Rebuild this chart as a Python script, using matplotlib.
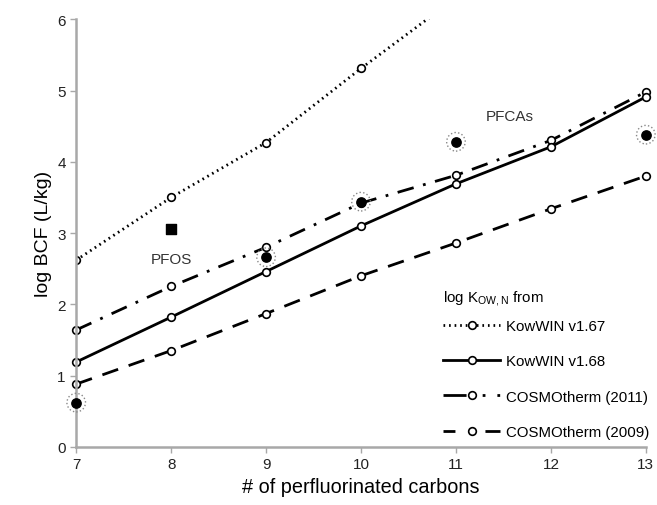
import matplotlib.pyplot as plt
from matplotlib.lines import Line2D

plt.rcParams["font.family"] = ["Liberation Sans", "DejaVu Sans"]

carbons = [7, 8, 9, 10, 11, 12, 13]
kowwin_167_x = [7, 8, 9, 10, 11]
kowwin_167 = [2.62, 3.5, 4.27, 5.31, 6.3]
kowwin_168 = [1.19, 1.82, 2.46, 3.1, 3.69, 4.21, 4.91]
cosmo_2011 = [1.64, 2.25, 2.8, 3.42, 3.81, 4.3, 4.98]
cosmo_2009 = [0.88, 1.35, 1.87, 2.4, 2.86, 3.34, 3.8]

pfca_x = [7, 9, 10, 11, 13]
pfca_y = [0.62, 2.66, 3.44, 4.28, 4.38]
pfos_x = [8]
pfos_y = [3.05]

grey = "#a8a8a8"

fig = plt.figure(figsize=(6.57, 5.06), dpi=100)
ax = fig.add_axes([0.116, 0.115, 0.867, 0.845])

mk = dict(marker="o", markersize=5.5, markerfacecolor="white",
          markeredgecolor="black", markeredgewidth=1.2, color="black")

lines = []
lines += ax.plot(kowwin_167_x, kowwin_167, linestyle=(0, (0.6, 1.4)), linewidth=2.0, **mk)
lines += ax.plot(carbons, cosmo_2011, linestyle=(0, (6, 3.5, 1, 3.5)), linewidth=2.0, **mk)
lines += ax.plot(carbons, kowwin_168, linestyle="-", linewidth=2.0, **mk)
lines += ax.plot(carbons, cosmo_2009, linestyle=(0, (6, 4)), linewidth=2.0, **mk)

# clip only the dotted line at the top, let markers on the axes show in full
lines[0].set_clip_on(True)
for ln in lines[1:]:
    ln.set_clip_on(False)

rings = ax.scatter(pfca_x, pfca_y, s=180, facecolors="none", edgecolors="#888888",
                   linestyles=":", linewidths=1.0, zorder=4)
dots = ax.scatter(pfca_x, pfca_y, s=45, color="black", zorder=5)
rings.set_clip_on(False)
dots.set_clip_on(False)
ax.scatter(pfos_x, pfos_y, s=45, marker="s", color="black", zorder=5)

ax.text(8, 2.63, "PFOS", ha="center", va="center", fontsize=11, color="#333333")
ax.text(11.57, 4.64, "PFCAs", ha="center", va="center", fontsize=11, color="#333333")

ax.set_xlim(7, 13)
ax.set_ylim(0, 6)
ax.set_xticks(carbons)
ax.set_yticks(range(0, 7))
for s in ["top", "right"]:
    ax.spines[s].set_visible(False)
for s in ["left", "bottom"]:
    ax.spines[s].set_color(grey)
    ax.spines[s].set_linewidth(1.8)
ax.tick_params(colors=grey, labelcolor="#222222", labelsize=11, length=4, width=1)
ax.set_xlabel("# of perfluorinated carbons", fontsize=14.3)
ax.set_ylabel("log BCF (L/kg)", fontsize=14)

# legend handles with patterns that read like the original key
handles = [
    Line2D([], [], linestyle=(0, (0.6, 1.4)), linewidth=2.0, **mk),
    Line2D([], [], linestyle="-", linewidth=2.0, **mk),
    Line2D([], [], linestyle=(0, (8.3, 5.8, 1, 4.3, 1, 10)), linewidth=2.0, **mk),
    Line2D([], [], linestyle=(0, (4.3, 10.8, 6, 5)), linewidth=2.0, **mk),
]
labels = ["KowWIN v1.67", "KowWIN v1.68", "COSMOtherm (2011)", "COSMOtherm (2009)"]
leg = ax.legend(handles, labels, loc="lower right", bbox_to_anchor=(1.03, -0.013),
                frameon=False, fontsize=10.8, handlelength=3.8, labelspacing=1.42,
                handletextpad=0.4,
                title=r"log K$_{\mathregular{OW,N}}$ from", title_fontsize=10.8)
leg._legend_box.align = "left"
leg._legend_box.sep = 8

fig.savefig("out.png", dpi=100)
